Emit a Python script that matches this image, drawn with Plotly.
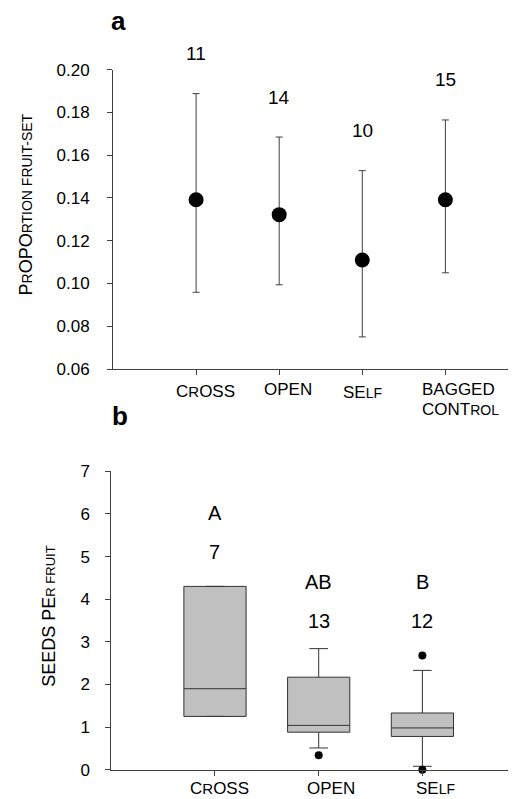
import plotly.graph_objects as go

# ---------- Panel a data ----------
cats_a = ["CROSS", "OPEN", "SELF", "BAGGED CONTROL"]
mean_a = [0.1392, 0.1322, 0.1110, 0.1392]
upper_a = [0.1888, 0.1685, 0.1528, 0.1765]
lower_a = [0.0959, 0.0994, 0.0750, 0.1050]
n_a = [11, 14, 10, 15]
yticks_a = [0.06, 0.08, 0.10, 0.12, 0.14, 0.16, 0.18, 0.20]

# ---------- Panel b data ----------
cats_b = ["CROSS", "OPEN", "SELF"]
q1_b = [1.25, 0.88, 0.78]
median_b = [1.90, 1.04, 0.98]
q3_b = [4.30, 2.17, 1.33]
lowfence_b = [1.25, 0.51, 0.08]
upfence_b = [4.30, 2.84, 2.33]
outlier_x = ["OPEN", "SELF", "SELF"]
outlier_y = [0.34, 2.68, 0.0]
n_b = [7, 13, 12]
letters_b = ["A", "AB", "B"]
yticks_b = [0, 1, 2, 3, 4, 5, 6, 7]

# label heights for panel b (data units)
n_label_y = [4.95, 3.33, 3.33]
letter_label_y = [5.85, 4.25, 4.25]

W, H = 516, 799
FONT = "Liberation Sans, Arial, sans-serif"
AX = "#404040"
VOFF = 7  # visual correction for annotation vertical centring

def py(px):
    return 1 - (px - VOFF) / H

err_plus = [u - m for u, m in zip(upper_a, mean_a)]
err_minus = [m - l for m, l in zip(mean_a, lower_a)]

fig = go.Figure()

fig.add_trace(go.Scatter(
    x=cats_a, y=mean_a, mode="markers", xaxis="x", yaxis="y",
    marker=dict(color="black", size=15),
    error_y=dict(type="data", array=err_plus, arrayminus=err_minus,
                 color=AX, thickness=1, width=3.5),
    showlegend=False, hoverinfo="skip"))

fig.add_trace(go.Box(
    x=cats_b, q1=q1_b, median=median_b, q3=q3_b,
    lowerfence=lowfence_b, upperfence=upfence_b,
    xaxis="x2", yaxis="y2", width=0.6, whiskerwidth=0.3,
    fillcolor="#c0c0c0", line=dict(color="#333333", width=1),
    boxpoints=False, showlegend=False, hoverinfo="skip"))

fig.add_trace(go.Scatter(
    x=outlier_x, y=outlier_y, mode="markers", xaxis="x2", yaxis="y2",
    marker=dict(color="black", size=8), cliponaxis=False,
    showlegend=False, hoverinfo="skip"))

ann = []
# n labels panel a
for c, u, n in zip(cats_a, upper_a, n_a):
    ann.append(dict(x=c, y=u, xref="x", yref="y", text=str(n), showarrow=False,
                    yshift=33 + VOFF, yanchor="middle", font=dict(size=19, color="black")))
# n and letter labels panel b
for c, yv, n in zip(cats_b, n_label_y, n_b):
    ann.append(dict(x=c, y=yv, xref="x2", yref="y2", text=str(n), showarrow=False,
                    yshift=VOFF, yanchor="middle", font=dict(size=20, color="black")))
for c, yv, t in zip(cats_b, letter_label_y, letters_b):
    ann.append(dict(x=c, y=yv, xref="x2", yref="y2", text=t, showarrow=False,
                    yshift=VOFF, yanchor="middle", font=dict(size=20, color="black")))

def sm(t, s):
    return '<span style="font-size:%dpx">%s</span>' % (s, t)

CROSS_T = "C" + sm("R", 15) + "OSS"
SELF_T = "SE" + sm("LF", 14)
# category labels panel a
lab_a = [(CROSS_T, 9, 390), ("OPEN", 9, 388.5), (SELF_T, 0, 391)]
for c, (t, dx, yy) in zip(cats_a[:3], lab_a):
    ann.append(dict(x=c, y=py(yy), xref="x", yref="paper", text=t, showarrow=False,
                    xshift=dx, yanchor="middle", font=dict(size=17, color="black")))
ann.append(dict(x=cats_a[3], y=py(389), xref="x", yref="paper", text="BAGGED",
                showarrow=False, xshift=-25, xanchor="left", yanchor="middle",
                font=dict(size=17, color="black")))
ann.append(dict(x=cats_a[3], y=py(408.5), xref="x", yref="paper",
                text="CONT" + sm("ROL", 14), showarrow=False, xshift=-25,
                xanchor="left", yanchor="middle", font=dict(size=17, color="black")))
# category labels panel b
lab_b = [(CROSS_T, 5), ("OPEN", 12), (SELF_T, 13)]
for c, (t, dx) in zip(cats_b, lab_b):
    ann.append(dict(x=c, y=py(787), xref="x2", yref="paper", text=t, showarrow=False,
                    xshift=dx, yanchor="middle", font=dict(size=17, color="black")))

# axis titles
ann.append(dict(x=17 / W, y=1 - 196.5 / H, xref="paper", yref="paper", textangle=-90,
                text="P" + sm("R", 14) + "OPO" + sm("RTION FRUIT-SET", 14),
                showarrow=False, xanchor="center", yanchor="middle",
                font=dict(size=18, color="black")))
ann.append(dict(x=41 / W, y=1 - 608.7 / H, xref="paper", yref="paper", textangle=-90,
                text="SEEDS PE" + sm("R FRUIT", 13),
                showarrow=False, xanchor="center", yanchor="middle",
                font=dict(size=18, color="black")))
# panel letters
ann.append(dict(x=110 / W, y=py(19.5), xref="paper", yref="paper", text="<b>a</b>",
                showarrow=False, xanchor="center", yanchor="middle",
                font=dict(size=26, color="black")))
ann.append(dict(x=111.5 / W, y=py(415), xref="paper", yref="paper", text="<b>b</b>",
                showarrow=False, xanchor="center", yanchor="middle",
                font=dict(size=26, color="black")))

axis_common = dict(showline=True, linecolor=AX, linewidth=1, ticks="outside",
                   ticklen=5, tickcolor=AX, tickwidth=1, showgrid=False,
                   zeroline=False, automargin=False, mirror=False)

fig.update_layout(
    width=W, height=H, template="none",
    margin=dict(l=0, r=0, t=0, b=0),
    paper_bgcolor="white", plot_bgcolor="white",
    font=dict(family=FONT, color="black"),
    xaxis=dict(axis_common, domain=[105 / W, 1], anchor="y", type="category",
               categoryorder="array", categoryarray=cats_a,
               range=[-1, 3.946], showticklabels=False),
    yaxis=dict(axis_common, domain=[1 - 361 / H, 1 - 61.7 / H], anchor="x",
               range=[0.06, 0.20], tickvals=yticks_a, tickformat=".2f",
               tickfont=dict(size=17, color="black"), ticklabelstandoff=14),
    xaxis2=dict(axis_common, domain=[103.3 / W, 1], anchor="y2", type="category",
                categoryorder="array", categoryarray=cats_b,
                range=[-1, 2.98], showticklabels=False),
    yaxis2=dict(axis_common, domain=[1 - 761.7 / H, 1 - 463.3 / H], anchor="x2",
                range=[0, 7], tickvals=yticks_b,
                tickfont=dict(size=17, color="black"), ticklabelstandoff=12),
    annotations=ann,
)

fig.write_html("out.html")
